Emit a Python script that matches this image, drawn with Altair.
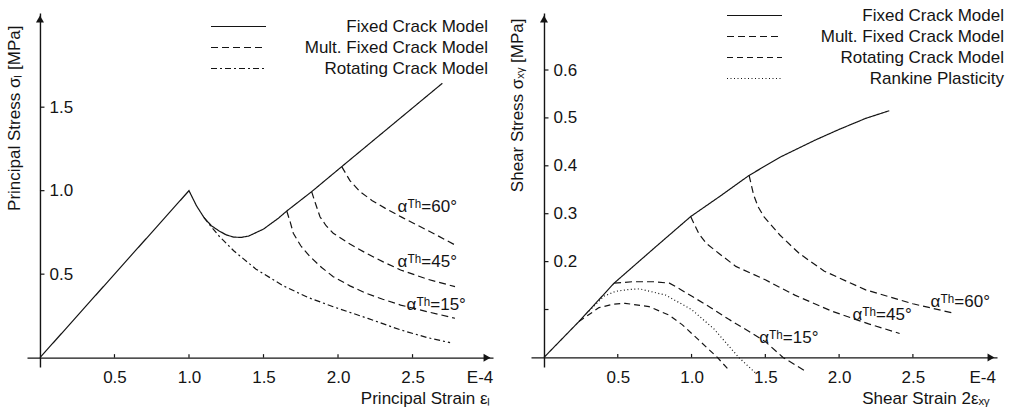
import altair as alt
import pandas as pd

FONT = "Liberation Sans"
INK = "#141414"
FS = 17

# ---------------- left panel: principal stress / principal strain ----------------
L_FIXED_X = [0.0, 1.0, 1.05, 1.1, 1.15, 1.2, 1.25, 1.3, 1.35, 1.4, 1.5, 1.6, 1.656, 1.823, 2.025, 2.7]
L_FIXED_Y = [0.0, 1.0, 0.91, 0.84, 0.79, 0.76, 0.735, 0.722, 0.72, 0.728, 0.77, 0.835, 0.878, 0.994, 1.144, 1.643]

L_MF60_X = [2.025, 2.08, 2.148, 2.23, 2.318, 2.43, 2.55, 2.67, 2.785]
L_MF60_Y = [1.144, 1.06, 0.994, 0.94, 0.894, 0.84, 0.785, 0.73, 0.675]
L_MF45_X = [1.823, 1.85, 1.879, 1.92, 1.968, 2.08, 2.19, 2.3, 2.42, 2.6, 2.785]
L_MF45_Y = [0.994, 0.92, 0.844, 0.79, 0.745, 0.68, 0.625, 0.575, 0.525, 0.47, 0.425]
L_MF15_X = [1.656, 1.68, 1.70, 1.75, 1.812, 1.89, 1.968, 2.08, 2.19, 2.3, 2.42, 2.6, 2.785]
L_MF15_Y = [0.878, 0.81, 0.745, 0.67, 0.605, 0.54, 0.485, 0.43, 0.385, 0.35, 0.315, 0.275, 0.236]

L_ROT_X = [1.1, 1.13, 1.2, 1.3, 1.45, 1.633, 1.8, 1.968, 2.2, 2.42, 2.6, 2.752]
L_ROT_Y = [0.84, 0.805, 0.73, 0.64, 0.53, 0.43, 0.36, 0.305, 0.235, 0.166, 0.12, 0.09]

L_MODELS = ["Fixed Crack Model", "Mult. Fixed Crack Model", "Rotating Crack Model"]
L_DASHES = [[1, 0], [7, 4], [6, 3, 2, 3]]
L_XTICKS = [0.5, 1.0, 1.5, 2.0, 2.5, 2.95]
L_XTICK_MARKS = [0.5, 1.0, 1.5, 2.0, 2.5]
L_YTICKS = [0.5, 1.0, 1.5]
L_YTICK_MARKS = [0.5, 1.0, 1.5]
L_ANN_TEXT = ["\u03b1\u1d40\u02b0=60\u00b0", "\u03b1\u1d40\u02b0=45\u00b0", "\u03b1\u1d40\u02b0=15\u00b0"]
L_ANN_X = [2.40, 2.40, 2.46]
L_ANN_Y = [0.90, 0.573, 0.315]

# ---------------- right panel: shear stress / shear strain ----------------
R_FIXED_X = [0.0, 0.237, 0.475, 0.75, 0.994, 1.2, 1.39, 1.6, 1.84, 2.0, 2.18, 2.34]
R_FIXED_Y = [0.0, 0.075, 0.155, 0.229, 0.294, 0.338, 0.38, 0.418, 0.454, 0.476, 0.499, 0.515]

R_MF60_X = [1.39, 1.42, 1.45, 1.49, 1.6, 1.73, 1.9, 2.18, 2.5, 2.78]
R_MF60_Y = [0.38, 0.34, 0.315, 0.294, 0.255, 0.217, 0.18, 0.141, 0.112, 0.092]
R_MF45_X = [0.994, 1.05, 1.1, 1.186, 1.3, 1.5, 1.7, 1.955, 2.2, 2.41]
R_MF45_Y = [0.294, 0.258, 0.238, 0.217, 0.19, 0.162, 0.13, 0.096, 0.07, 0.05]
R_MF15_X = [0.475, 0.6, 0.75, 0.85, 0.92, 1.0, 1.12, 1.25, 1.39, 1.5, 1.62, 1.763]
R_MF15_Y = [0.155, 0.158, 0.158, 0.155, 0.143, 0.128, 0.106, 0.08, 0.054, 0.033, 0.0, -0.027]

R_ROT_X = [0.237, 0.373, 0.47, 0.55, 0.712, 0.85, 0.938, 1.05, 1.175, 1.243]
R_ROT_Y = [0.075, 0.104, 0.111, 0.113, 0.106, 0.088, 0.068, 0.036, 0.0, -0.023]
R_RANK_X = [0.305, 0.407, 0.486, 0.58, 0.65, 0.825, 1.0, 1.15, 1.32, 1.435]
R_RANK_Y = [0.097, 0.128, 0.138, 0.142, 0.143, 0.13, 0.1, 0.06, 0.0, -0.033]

R_MODELS = ["Fixed Crack Model", "Mult. Fixed Crack Model", "Rotating Crack Model", "Rankine Plasticity"]
R_DASHES = [[1, 0], [7, 4], [6, 4], [1, 2.5]]
R_XTICKS = [0.5, 1.0, 1.5, 2.0, 2.5, 2.97]
R_XTICK_MARKS = [0.5, 1.0, 1.5, 2.0, 2.5]
R_YTICKS = [0.2, 0.3, 0.4, 0.5, 0.6]
R_YTICK_MARKS = [0.1, 0.2, 0.3, 0.4, 0.5, 0.6]
R_ANN_TEXT = ["\u03b1\u1d40\u02b0=60\u00b0", "\u03b1\u1d40\u02b0=45\u00b0", "\u03b1\u1d40\u02b0=15\u00b0"]
R_ANN_X = [2.62, 2.09, 1.458]
R_ANN_Y = [0.116, 0.089, 0.040]


def series(xs, ys, model, curve):
    return pd.DataFrame({"x": xs, "y": ys, "model": model, "curve": curve,
                         "order": list(range(len(xs)))})


left_df = pd.concat([
    series(L_FIXED_X, L_FIXED_Y, L_MODELS[0], "fixed"),
    series(L_MF60_X, L_MF60_Y, L_MODELS[1], "mf60"),
    series(L_MF45_X, L_MF45_Y, L_MODELS[1], "mf45"),
    series(L_MF15_X, L_MF15_Y, L_MODELS[1], "mf15"),
    series(L_ROT_X, L_ROT_Y, L_MODELS[2], "rot"),
], ignore_index=True)

right_df = pd.concat([
    series(R_FIXED_X, R_FIXED_Y, R_MODELS[0], "fixed"),
    series(R_MF60_X, R_MF60_Y, R_MODELS[1], "mf60"),
    series(R_MF45_X, R_MF45_Y, R_MODELS[1], "mf45"),
    series(R_MF15_X, R_MF15_Y, R_MODELS[1], "mf15"),
    series(R_ROT_X, R_ROT_Y, R_MODELS[2], "rot"),
    series(R_RANK_X, R_RANK_Y, R_MODELS[3], "rank"),
], ignore_index=True)


def panel(tag, df, models, dashes, xdom, ydom, w, h, xticks, xtick_marks, yticks, ytick_marks,
          ytitle, xtitle, ytitle_dx, ytitle_dy, xtitle_right, legend_x, legend_y,
          ann_text, ann_x, ann_y):
    x0_px = (0 - xdom[0]) / (xdom[1] - xdom[0]) * w
    y0_px = (0 - ydom[0]) / (ydom[1] - ydom[0]) * h
    xunit = (xdom[1] - xdom[0]) / w   # data units per pixel
    yunit = (ydom[1] - ydom[0]) / h
    xscale = alt.Scale(domain=xdom, nice=False, zero=False)
    yscale = alt.Scale(domain=ydom, nice=False, zero=False)
    xaxis = alt.Axis(
        values=xticks,
        labelExpr="datum.value > 2.8 ? 'E-4' : format(datum.value, '.1f')",
        offset=-y0_px, ticks=False, grid=False,
        domainColor=INK, domainWidth=1.4,
        labelPadding=12, labelFontSize=FS, labelFont=FONT, labelColor=INK,
        labelFlush=False, labelOverlap=False,
        title=xtitle, titleX=xtitle_right, titleY=46, titleAlign="right",
        titleBaseline="alphabetic", titleFontSize=FS, titleFont=FONT,
        titleFontWeight="normal", titleColor=INK,
    )
    yaxis = alt.Axis(
        values=yticks, format=".1f",
        offset=-x0_px, ticks=False, grid=False,
        domainColor=INK, domainWidth=1.4,
        labelAlign="left", labelBaseline="middle", labelPadding=-9,
        labelFontSize=FS, labelFont=FONT, labelColor=INK, labelOverlap=False,
        labelFlush=False,
        title=ytitle, titleAngle=270, titleAlign="right", titleBaseline="middle",
        titleX=ytitle_dx, titleY=ytitle_dy, titleFontSize=FS, titleFont=FONT,
        titleFontWeight="normal", titleColor=INK,
    )
    legend = alt.Legend(
        orient="none", legendX=legend_x, legendY=legend_y, title=None,
        symbolType="stroke", symbolSize=3025, symbolStrokeWidth=1.2,
        symbolStrokeColor=INK, labelAlign="right", labelOffset=221,
        labelFontSize=FS, labelFont=FONT, labelColor=INK, labelLimit=400,
        clipHeight=21, rowPadding=0,
    )
    lines = alt.Chart(df).mark_line(color=INK, strokeWidth=1.2).encode(
        x=alt.X("x:Q", scale=xscale, axis=xaxis),
        y=alt.Y("y:Q", scale=yscale, axis=yaxis),
        strokeDash=alt.StrokeDash("model:N", scale=alt.Scale(domain=models, range=dashes),
                                  legend=legend),
        detail="curve:N",
        order="order:Q",
    )

    # arrow heads at the two axis ends (positions derived from the scale domains)
    ax_df = pd.DataFrame({"x": [xdom[1] - 6 * xunit], "y": [0.0], "kind": [tag + "ax"]})
    ay_df = pd.DataFrame({"x": [0.0], "y": [ydom[1] - 6 * yunit], "kind": [tag + "ay"]})
    arrow_x = alt.Chart(ax_df).mark_point(shape="triangle-right", size=64, filled=True,
                                          color=INK, opacity=1).encode(
        x=alt.X("x:Q", scale=xscale), y=alt.Y("y:Q", scale=yscale))
    arrow_y = alt.Chart(ay_df).mark_point(shape="triangle-up", size=64, filled=True,
                                          color=INK, opacity=1).encode(
        x=alt.X("x:Q", scale=xscale), y=alt.Y("y:Q", scale=yscale))

    # small inward tick marks on both axes
    xt = pd.DataFrame({"x": xtick_marks, "y": 0.0, "y2": 3.5 * yunit, "kind": tag + "xt"})
    xt_marks = alt.Chart(xt).mark_rule(color=INK, strokeWidth=1.2).encode(
        x=alt.X("x:Q", scale=xscale), y=alt.Y("y:Q", scale=yscale), y2="y2:Q")
    yt = pd.DataFrame({"y": ytick_marks, "x": 0.0, "x2": 4.5 * xunit, "kind": tag + "yt"})
    yt_marks = alt.Chart(yt).mark_rule(color=INK, strokeWidth=1.2).encode(
        y=alt.Y("y:Q", scale=yscale), x=alt.X("x:Q", scale=xscale), x2="x2:Q")

    ann = alt.Chart(pd.DataFrame({"t": ann_text, "x": ann_x, "y": ann_y})).mark_text(
        align="left", baseline="middle", font=FONT, fontSize=FS, color=INK
    ).encode(x=alt.X("x:Q", scale=xscale), y=alt.Y("y:Q", scale=yscale), text="t:N")

    return alt.layer(lines, arrow_x, arrow_y, xt_marks, yt_marks, ann).properties(width=w, height=h)


left = panel("L", left_df, L_MODELS, L_DASHES, [-0.087, 3.04], [-0.056, 2.064], 466, 354,
             L_XTICKS, L_XTICK_MARKS, L_YTICKS, L_YTICK_MARKS,
             "Principal Stress \u03c3\u2097 [MPa]", "Principal Strain \u03b5\u2097",
             -25, 12, 463, 183, 3, L_ANN_TEXT, L_ANN_X, L_ANN_Y)
right = panel("R", right_df, R_MODELS, R_DASHES, [-0.088, 3.07], [-0.020, 0.719], 466, 354,
              R_XTICKS, R_XTICK_MARKS, R_YTICKS, R_YTICK_MARKS,
              "Shear Stress \u03c3\u2093\u1d67 [MPa]", "Shear Strain 2\u03b5\u2093\u1d67",
              -26, 5, 458, 195, -8, R_ANN_TEXT, R_ANN_X, R_ANN_Y)

chart = alt.hconcat(left, right, spacing=15).resolve_scale(
    x="independent", y="independent", strokeDash="independent"
).resolve_legend(strokeDash="independent").configure_view(stroke=None)

chart.save("out.html", embed_options={"renderer": "svg", "actions": False})
